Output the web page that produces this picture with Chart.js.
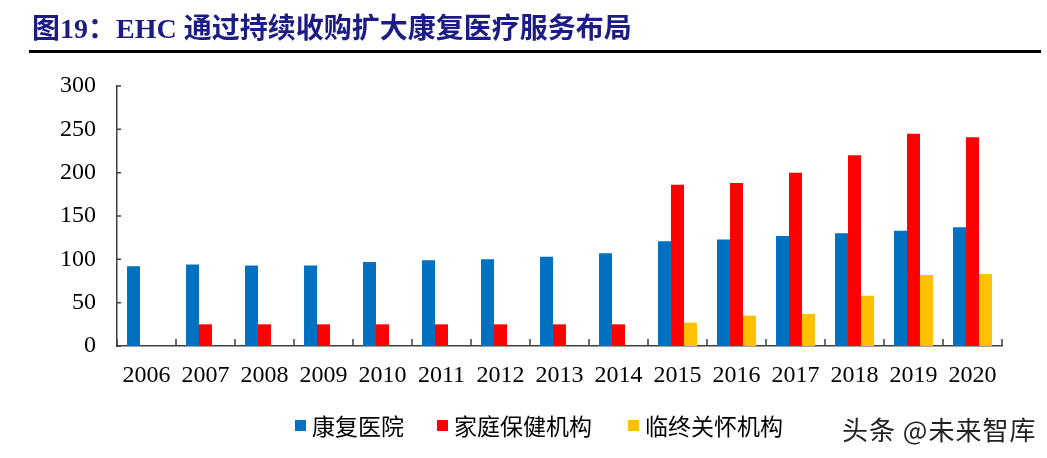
<!DOCTYPE html>
<html>
<head>
<meta charset="utf-8">
<script src="https://cdn.jsdelivr.net/npm/chart.js@4.4.1/dist/chart.umd.min.js"></script>
<style>
  html, body { margin: 0; padding: 0; background: #fff; }
  #wrap { position: relative; width: 1047px; height: 458px; overflow: hidden; }
  #chartBox { position: absolute; left: 0; top: 0; width: 1047px; height: 458px; }
  #title { position: absolute; left: 32px; top: 8px; font-family: "Liberation Serif", "Noto Sans CJK SC", serif; font-weight: bold; font-size: 28px; color: #1C1C84; white-space: nowrap; line-height: 36px; }
  #title .cjk { font-family: "Noto Sans CJK SC", sans-serif; }
  #rule { position: absolute; left: 29px; top: 50px; width: 1012px; height: 2.5px; background: #000; }
  #legend { position: absolute; left: 295px; top: 411px; height: 30px; font-family: "Noto Sans CJK SC", sans-serif; font-size: 23px; color: #000; white-space: nowrap; }
  .item { position: absolute; top: 0; line-height: 30px; }
  .sw { position: absolute; top: 9px; left: 0; width: 11px; height: 11px; }
  .lbl { position: absolute; left: 17px; top: -1px; }
  #wm { position: absolute; left: 842px; top: 412px; font-family: "Noto Sans CJK SC", sans-serif; font-size: 26px; letter-spacing: 1px; color: #222; white-space: nowrap; line-height: 34px; text-shadow: 0 0 2px #fff; }
</style>
</head>
<body>
<div id="wrap">
  <div id="chartBox"><canvas id="c"></canvas></div>
  <div id="title"><span class="cjk">图</span>19<span class="cjk">：</span>EHC <span class="cjk">通过持续收购扩大康复医疗服务布局</span></div>
  <div id="rule"></div>
  <div id="legend"></div>
  <div id="wm">头条 @未来智库</div>
</div>
<script>
const years = ["2006","2007","2008","2009","2010","2011","2012","2013","2014","2015","2016","2017","2018","2019","2020"];
const rehabHospitals = [92, 94, 93, 93, 97, 99, 100, 103, 107, 121, 123, 127, 130, 133, 137];
const homeHealth = [null, 25, 25, 25, 25, 25, 25, 25, 25, 186, 188, 200, 220, 245, 241];
const hospice = [null, null, null, null, null, null, null, null, null, 27, 35, 37, 58, 82, 83];
const seriesNames = ["康复医院", "家庭保健机构", "临终关怀机构"];
const seriesColors = ["#0070C0", "#FF0000", "#FFC000"];
const yTicks = [0, 50, 100, 150, 200, 250, 300];

// HTML legend built from the series names
const legendPos = [0, 142, 333];
const legend = document.getElementById('legend');
seriesNames.forEach((n, i) => {
  const d = document.createElement('div');
  d.className = 'item';
  d.style.left = legendPos[i] + 'px';
  d.innerHTML = '<span class="sw" style="background:' + seriesColors[i] + '"></span><span class="lbl">' + n + '</span>';
  legend.appendChild(d);
});

const innerTicks = {
  id: 'innerTicks',
  afterDraw(chart) {
    const ctx = chart.ctx;
    const x = chart.scales.x, y = chart.scales.y;
    ctx.save();
    ctx.strokeStyle = '#404040';
    ctx.lineWidth = 1.5;
    ctx.beginPath();
    yTicks.forEach(v => {
      const py = y.getPixelForValue(v);
      ctx.moveTo(x.left - 1, py);
      ctx.lineTo(x.left + 4, py);
    });
    const n = years.length;
    for (let i = 0; i <= n; i++) {
      let px;
      if (i === 0) px = x.left;
      else if (i === n) px = x.right;
      else px = (x.getPixelForValue(i - 1) + x.getPixelForValue(i)) / 2;
      ctx.moveTo(px, y.bottom);
      ctx.lineTo(px, y.bottom - 7);
    }
    ctx.stroke();
    ctx.restore();
  }
};

new Chart(document.getElementById('c'), {
  type: 'bar',
  data: {
    labels: years,
    datasets: [
      { label: seriesNames[0], data: rehabHospitals, backgroundColor: seriesColors[0] },
      { label: seriesNames[1], data: homeHealth, backgroundColor: seriesColors[1] },
      { label: seriesNames[2], data: hospice, backgroundColor: seriesColors[2] }
    ]
  },
  options: {
    responsive: true,
    maintainAspectRatio: false,
    animation: false,
    devicePixelRatio: 1,
    layout: { padding: { top: 86, right: 45, bottom: 72, left: 0 } },
    datasets: { bar: { categoryPercentage: 0.66, barPercentage: 1.0, borderWidth: 0 } },
    plugins: { legend: { display: false }, tooltip: { enabled: false }, title: { display: false } },
    scales: {
      x: {
        grid: { display: false, drawTicks: false },
        border: { display: true, color: '#404040', width: 1.5 },
        ticks: { color: '#000', font: { family: 'Liberation Serif', size: 24 }, padding: 15, maxRotation: 0, autoSkip: false },
        afterFit(s) { s.height = 40; }
      },
      y: {
        min: 0, max: 300,
        grid: { display: false, drawTicks: false },
        border: { display: true, color: '#404040', width: 1.5 },
        afterBuildTicks(s) { s.ticks = yTicks.map(v => ({ value: v })); },
        ticks: { color: '#000', font: { family: 'Liberation Serif', size: 24 }, padding: 21 },
        afterFit(s) { s.width = 117; }
      }
    }
  },
  plugins: [innerTicks]
});
</script>
</body>
</html>
